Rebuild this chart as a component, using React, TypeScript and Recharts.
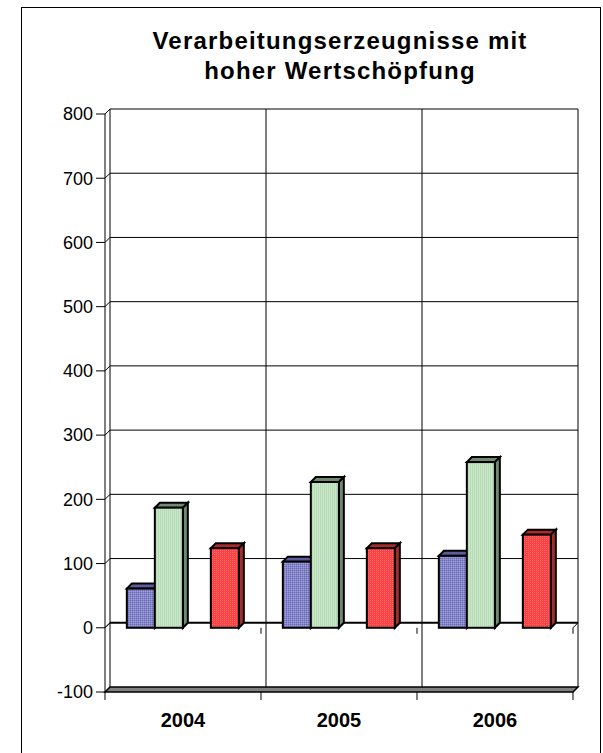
import React from 'react';
import { BarChart, Bar, XAxis, YAxis, CartesianGrid } from 'recharts';

const CATEGORIES = ['2004', '2005', '2006'];
const BLUE_VALUES = [61, 103, 112];
const GREEN_VALUES = [187, 227, 258];
const EMPTY_VALUES: (number | null)[] = [null, null, null];
const RED_VALUES = [124, 124, 145];
const Y_TICKS = [-100, 0, 100, 200, 300, 400, 500, 600, 700, 800];

const TITLE = ['Verarbeitungserzeugnisse mit', 'hoher Wertschöpfung'];
const FONT = "'Liberation Sans', Arial, sans-serif";
const DEPTH = 5;

const data = CATEGORIES.map((year, i) => ({
  year,
  blue: BLUE_VALUES[i],
  green: GREEN_VALUES[i],
  empty: EMPTY_VALUES[i],
  red: RED_VALUES[i],
}));

const bar3d = (front: string, dark: string) => (props: any) => {
  const { x, y, width, height } = props;
  if (x == null || y == null || !width || height == null) return <g />;
  const d = DEPTH;
  return (
    <g stroke="#000" strokeWidth={2} strokeLinejoin="miter">
      <path d={`M${x},${y} L${x + d},${y - d} H${x + width + d} L${x + width},${y} Z`} fill={dark} />
      <path
        d={`M${x + width},${y} L${x + width + d},${y - d} V${y + height - d} L${x + width},${y + height} Z`}
        fill={dark}
      />
      <rect x={x} y={y} width={width} height={height} fill={front} />
    </g>
  );
};

const YTick = (props: any) => {
  const { x, y, payload } = props;
  return (
    <g>
      <path d={`M${x + 3},${y} H${x + 12} L${x + 12 + DEPTH},${y - DEPTH}`} stroke="#000" fill="none" />
      <text x={x} y={y} dy="0.35em" textAnchor="end" fontSize={18} fontFamily={FONT} fill="#000">
        {payload.value}
      </text>
    </g>
  );
};

// back-wall gridlines, the floor slab and the zero plane
const hLine = (p: any) => {
  const { x1, x2, y1, index } = p;
  const v = Y_TICKS[index];
  const d = DEPTH;
  if (v === Y_TICKS[0]) {
    return (
      <path
        key={p.key}
        d={`M${x1},${y1} L${x1 + d},${y1 - d} H${x2 + d} L${x2},${y1} Z`}
        fill="#808080"
        stroke="#000"
        strokeWidth={1.5}
      />
    );
  }
  if (v === 0) {
    const n = CATEGORIES.length;
    return (
      <g key={p.key} stroke="#000" fill="none">
        <line x1={x1 + d} y1={y1 - d} x2={x2 + d} y2={y1 - d} strokeWidth={2} />
        <path d={`M${x1},${y1} L${x1 + d},${y1 - d}`} />
        <path d={`M${x2},${y1} L${x2 + d},${y1 - d}`} />
        {Array.from({ length: n }, (_, k) => {
          const xx = x1 + ((k + 1) * (x2 - x1)) / n;
          return <line key={k} x1={xx} y1={y1} x2={xx} y2={y1 + 6} />;
        })}
      </g>
    );
  }
  return <line key={p.key} x1={x1 + d} y1={y1 - d} x2={x2 + d} y2={y1 - d} stroke="#000" strokeWidth={1} />;
};

const vLine = (p: any) => {
  const { x1, y1, y2 } = p;
  const d = DEPTH;
  return (
    <g key={p.key} stroke="#000">
      <line x1={x1 + d} y1={y1 - d} x2={x1 + d} y2={y2 - d} />
      <line x1={x1} y1={y2} x2={x1} y2={y2 + 8} />
    </g>
  );
};

// category boundaries (Excel draws gridlines between the years)
const boundaries = ({ offset }: any) =>
  Array.from({ length: CATEGORIES.length + 1 }, (_, k) => offset.left + (k * offset.width) / CATEGORIES.length);

export default function App() {
  return (
    <div style={{ position: 'absolute', left: 0, top: 0, width: 603, height: 753, overflow: 'hidden', background: '#fff' }}>
      <div style={{ position: 'absolute', left: 0, top: 0 }}>
        <BarChart
          width={603}
          height={753}
          data={data}
          margin={{ top: 114, right: 30, bottom: 0, left: 25 }}
          barCategoryGap="14%"
          barGap={0}
        >
          <defs>
            <pattern id="pBlue" width={2} height={2} patternUnits="userSpaceOnUse">
              <rect width={2} height={2} fill="#8484c8" />
              <rect width={1} height={1} fill="#6a6ab4" />
              <rect x={1} y={1} width={1} height={1} fill="#9e9ed8" />
            </pattern>
            <pattern id="pGreen" width={2} height={2} patternUnits="userSpaceOnUse">
              <rect width={2} height={2} fill="#c8e8c8" />
              <rect width={1} height={2} fill="#b6dab6" />
            </pattern>
            <pattern id="pRed" width={2} height={2} patternUnits="userSpaceOnUse">
              <rect width={2} height={2} fill="#ff4040" />
              <rect width={1} height={1} fill="#ff6a6a" />
            </pattern>
          </defs>
          <CartesianGrid
            horizontal={hLine}
            vertical={vLine}
            horizontalValues={Y_TICKS}
            verticalCoordinatesGenerator={boundaries}
          />
          <XAxis
            dataKey="year"
            height={61}
            tickLine={false}
            axisLine={false}
            tickMargin={15}
            tick={{ fontSize: 20, fontWeight: 'bold', fontFamily: FONT, fill: '#000' }}
          />
          <YAxis
            domain={[-100, 800]}
            ticks={Y_TICKS}
            interval={0}
            width={80}
            tickSize={8}
            tickMargin={4}
            tickLine={false}
            axisLine={{ stroke: '#000' }}
            tick={YTick}
          />
          <Bar dataKey="blue" isAnimationActive={false} shape={bar3d('url(#pBlue)', '#5c5c9e')} />
          <Bar dataKey="green" isAnimationActive={false} shape={bar3d('url(#pGreen)', '#6f8a6f')} />
          <Bar dataKey="empty" isAnimationActive={false} shape={bar3d('#fff', '#fff')} />
          <Bar dataKey="red" isAnimationActive={false} shape={bar3d('url(#pRed)', '#a82a2a')} />
        </BarChart>
      </div>
      <div
        style={{
          position: 'absolute',
          left: 21,
          top: 7,
          width: 580,
          height: 780,
          border: '1px solid #000',
          boxSizing: 'border-box',
          pointerEvents: 'none',
        }}
      />
      <div
        style={{
          position: 'absolute',
          left: 90,
          top: 26,
          width: 500,
          textAlign: 'center',
          fontFamily: FONT,
          fontWeight: 'bold',
          fontSize: 24,
          letterSpacing: 1.2,
          lineHeight: '30px',
          color: '#000',
        }}
      >
        {TITLE.map((t) => (
          <div key={t}>{t}</div>
        ))}
      </div>
    </div>
  );
}
